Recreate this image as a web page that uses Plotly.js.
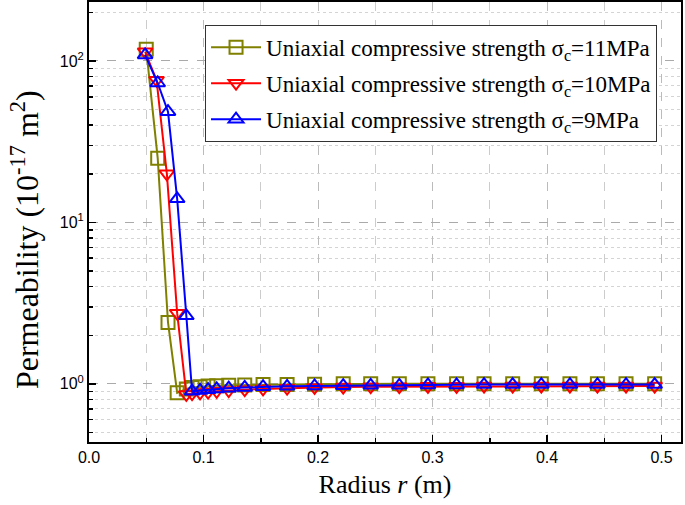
<!DOCTYPE html>
<html><head><meta charset="utf-8">
<script src="https://cdn.plot.ly/plotly-3.0.1.min.js"></script>
<style>body{margin:0;padding:0;background:#fff}#chart{width:685px;height:505px}</style>
</head><body><div id="chart"></div>
<script>
// Radius r (m) and permeability (1e-17 m^2)
var xGreen = [0.050, 0.060, 0.069, 0.077, 0.085, 0.090, 0.097, 0.104, 0.1115, 0.122, 0.136, 0.152, 0.173, 0.197, 0.222, 0.246, 0.271, 0.296, 0.321, 0.345, 0.370, 0.395, 0.420, 0.444, 0.469, 0.494];
var yGreen = [118, 25, 2.4, 0.88, 0.93, 0.95, 0.96, 0.97, 0.975, 0.98, 0.985, 0.99, 0.99, 0.995, 1.0, 1.0, 1.0, 1.0, 1.0, 1.0, 1.0, 1.0, 1.0, 1.0, 1.0, 1.0];
var xRed = [0.049, 0.059, 0.068, 0.077, 0.085, 0.090, 0.097, 0.104, 0.1115, 0.122, 0.136, 0.152, 0.173, 0.197, 0.222, 0.246, 0.271, 0.296, 0.321, 0.345, 0.370, 0.395, 0.420, 0.444, 0.469, 0.494];
var yRed = [114, 76, 20, 2.74, 0.86, 0.87, 0.88, 0.89, 0.90, 0.91, 0.92, 0.93, 0.94, 0.95, 0.955, 0.96, 0.96, 0.965, 0.965, 0.97, 0.97, 0.97, 0.97, 0.97, 0.97, 0.97];
var xBlue = [0.049, 0.060, 0.069, 0.077, 0.085, 0.090, 0.097, 0.104, 0.1115, 0.122, 0.136, 0.152, 0.173, 0.197, 0.222, 0.246, 0.271, 0.296, 0.321, 0.345, 0.370, 0.395, 0.420, 0.444, 0.469, 0.494];
var yBlue = [109, 73, 48.5, 14.0, 2.64, 0.90, 0.91, 0.92, 0.93, 0.94, 0.95, 0.96, 0.965, 0.97, 0.975, 0.98, 0.98, 0.985, 0.985, 0.99, 0.99, 0.99, 0.99, 0.99, 0.99, 0.99];
var names = ['Uniaxial compressive strength σ<sub>c</sub>=11MPa', 'Uniaxial compressive strength σ<sub>c</sub>=10MPa', 'Uniaxial compressive strength σ<sub>c</sub>=9MPa'];
var yTickVals = [1, 10, 100];
var yTickText = ['10<sup>0</sup>', '10<sup>1</sup>', '10<sup>2</sup>'];
var yMinorVals = [0.5, 0.6, 0.7, 0.8, 0.9, 2, 3, 4, 5, 6, 7, 8, 9, 20, 30, 40, 50, 60, 70, 80, 90, 200];
var xTickVals = [0, 0.1, 0.2, 0.3, 0.4, 0.5];
var xTickText = ['0.0', '0.1', '0.2', '0.3', '0.4', '0.5'];
var xMinorVals = [0.05, 0.15, 0.25, 0.35, 0.45];

var serif = "'Liberation Serif', 'Times New Roman', serif";
var sans = "'Liberation Sans', Arial, sans-serif";
function tr(x, y, name, color, symbol, grp) {
  return {x: x, y: y, name: name, legendgroup: grp, type: 'scatter', mode: 'lines+markers',
    line: {color: color, width: 2},
    marker: {symbol: symbol, size: 13, color: color, line: {color: color, width: 2}}};
}
var data = [
  tr(xGreen, yGreen, names[0], '#808000', 'square-open', 'g1'),
  tr(xRed, yRed, names[1], '#ff0000', 'triangle-down-open', 'g2'),
  tr(xBlue, yBlue, names[2], '#0000ff', 'triangle-up-open', 'g3')
];
var layout = {
  width: 685, height: 505,
  margin: {l: 89, r: 4, t: 2, b: 63},
  paper_bgcolor: '#fff', plot_bgcolor: '#fff',
  showlegend: true,
  legend: {x: 0.196, y: 0.948, xanchor: 'left', yanchor: 'top',
    bgcolor: '#fff', bordercolor: '#333', borderwidth: 1, tracegroupgap: 3, itemwidth: 50,
    font: {family: serif, size: 23, color: '#000'}},
  xaxis: {range: [0, 0.517], tickmode: 'array', tickvals: xTickVals, ticktext: xTickText,
    ticks: 'inside', ticklen: 7, tickwidth: 1.5, tickcolor: '#000',
    showline: true, linecolor: '#000', linewidth: 2, mirror: true,
    showgrid: true, gridcolor: '#bbb', griddash: 'dash', gridwidth: 1, zeroline: false,
    tickfont: {family: sans, size: 16, color: '#000'},
    minor: {tickmode: 'array', tickvals: xMinorVals, ticks: 'inside', ticklen: 4, tickcolor: '#000', showgrid: true, gridcolor: '#ccc', griddash: 'dash'},
    title: {text: 'Radius <i>r</i> (m)', font: {family: serif, size: 26, color: '#000'}, standoff: 10}},
  yaxis: {type: 'log', range: [-0.36, 2.365], tickmode: 'array', tickvals: yTickVals, ticktext: yTickText,
    ticks: 'inside', ticklen: 7, tickwidth: 1.5, tickcolor: '#000',
    showline: true, linecolor: '#000', linewidth: 2, mirror: true,
    showgrid: true, gridcolor: '#aaa', griddash: 'dash', gridwidth: 1, zeroline: false,
    tickfont: {family: sans, size: 16, color: '#000'},
    minor: {tickmode: 'array', tickvals: yMinorVals, ticks: 'inside', ticklen: 4, tickcolor: '#000', showgrid: true, gridcolor: '#d4d4d4', griddash: 'dot'}},
  annotations: [{text: 'Permeability (10<sup>-17</sup> m<sup>2</sup>)', textangle: -90,
    xref: 'paper', yref: 'paper', x: -0.108, y: 0.459, xanchor: 'center', yanchor: 'middle',
    showarrow: false, font: {family: serif, size: 32, color: '#000'}}]
};
Plotly.newPlot('chart', data, layout, {displayModeBar: false, staticPlot: true});
</script></body></html>
